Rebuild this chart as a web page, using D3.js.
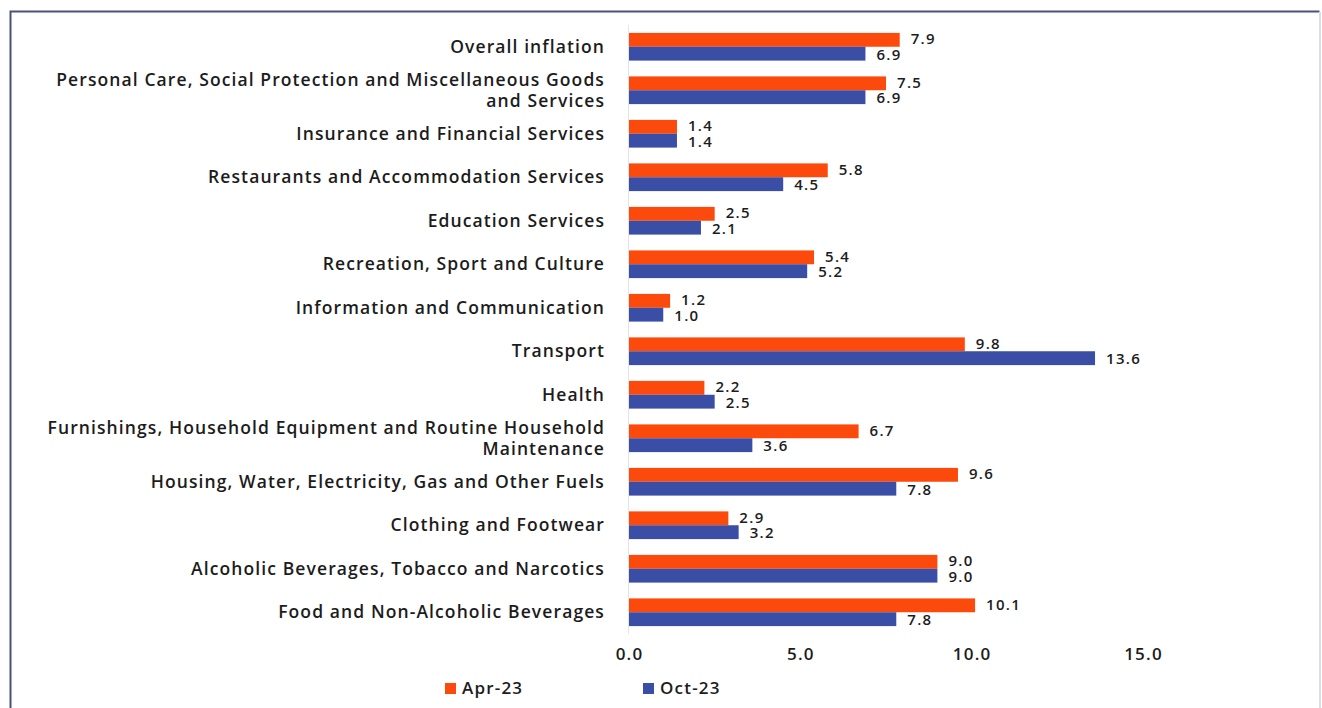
<!DOCTYPE html>
<html>
<head>
<meta charset="utf-8">
<script src="https://cdn.jsdelivr.net/npm/d3@7"></script>
<style>
  body { margin: 0; background: #fff; }
  svg { display: block; font-family: "Open Sans", sans-serif; }
</style>
</head>
<body>
<svg id="chart"></svg>
<script>
// categories from top to bottom, as they appear in the chart
const categories = [
  ["Overall inflation"],
  ["Personal Care, Social Protection and Miscellaneous Goods", "and Services"],
  ["Insurance and Financial Services"],
  ["Restaurants and Accommodation Services"],
  ["Education Services"],
  ["Recreation, Sport and Culture"],
  ["Information and Communication"],
  ["Transport"],
  ["Health"],
  ["Furnishings, Household Equipment and Routine Household", "Maintenance"],
  ["Housing, Water, Electricity, Gas and Other Fuels"],
  ["Clothing and Footwear"],
  ["Alcoholic Beverages, Tobacco and Narcotics"],
  ["Food and Non-Alcoholic Beverages"]
];
const apr23 = [7.9, 7.5, 1.4, 5.8, 2.5, 5.4, 1.2, 9.8, 2.2, 6.7, 9.6, 2.9, 9.0, 10.1];
const oct23 = [6.9, 6.9, 1.4, 4.5, 2.1, 5.2, 1.0, 13.6, 2.5, 3.6, 7.8, 3.2, 9.0, 7.8];
const seriesNames = ["Apr-23", "Oct-23"];
const xTicks = [0, 5, 10, 15];

const colors = {"Apr-23": "#fc4a0c", "Oct-23": "#3b4ea6"};
const textColor = "#1c1c1c";

const width = 1322, height = 708;
const svg = d3.select("#chart").attr("width", width).attr("height", height);

// frame of the scanned figure
svg.append("path")
    .attr("d", `M10.5,${height} V11.5 H1319.5`)
    .attr("fill", "none")
    .attr("stroke", "#4b5178")
    .attr("stroke-width", 2);
svg.append("line")
    .attr("x1", 1320).attr("x2", 1320).attr("y1", 12).attr("y2", height)
    .attr("stroke", "#dcdde6").attr("stroke-width", 2);

const rows = categories.map((c, i) => ({label: c, values: [apr23[i], oct23[i]], idx: i}));

const x = d3.scaleLinear().domain([0, 15]).range([629, 1143]);
const y = d3.scaleBand().domain(d3.range(categories.length)).range([25, 634]).padding(0);
const inner = d3.scaleBand().domain([0, 1]).range([0, y.bandwidth()]).paddingOuter(0.57).paddingInner(0);

// light axis line at zero
svg.append("line")
    .attr("x1", x(0) - 0.5).attr("x2", x(0) - 0.5)
    .attr("y1", 25).attr("y2", 634)
    .attr("stroke", "#e4e4e8");

const g = svg.selectAll("g.row").data(rows).join("g")
    .attr("class", "row")
    .attr("transform", d => `translate(0,${y(d.idx)})`);

g.selectAll("rect").data(d => d.values).join("rect")
    .attr("x", x(0))
    .attr("y", (v, j) => inner(j))
    .attr("width", v => x(v) - x(0))
    .attr("height", inner.bandwidth())
    .attr("fill", (v, j) => colors[seriesNames[j]]);

g.selectAll("text.val").data(d => d.values).join("text")
    .attr("class", "val")
    .attr("x", v => x(v) + 11)
    .attr("y", (v, j) => inner(j) + inner.bandwidth() / 2 + (j === 0 ? -1 : 1))
    .attr("dy", "0.35em")
    .attr("font-size", 15)
    .attr("font-weight", 600)
    .attr("letter-spacing", 1.3)
    .attr("fill", textColor)
    .text(v => v.toFixed(1));

// category labels, right aligned
g.append("text")
    .attr("text-anchor", "end")
    .attr("font-size", 17.5)
    .attr("font-weight", 600)
    .attr("letter-spacing", 1.1)
    .attr("fill", textColor)
    .each(function(d) {
      const t = d3.select(this);
      const n = d.label.length;
      d.label.forEach((line, k) => {
        t.append("tspan")
          .attr("x", 605)
          .attr("y", y.bandwidth() / 2 + (k - (n - 1) / 2) * 21)
          .attr("dy", "0.35em")
          .text(line);
      });
    });

// x axis tick labels
const axis = d3.axisBottom(x).tickValues(xTicks).tickFormat(d3.format(".1f")).tickSize(0).tickPadding(0);
svg.append("g")
    .attr("transform", "translate(0,648)")
    .call(axis)
    .call(a => a.select(".domain").remove())
    .call(a => a.selectAll("text")
        .attr("font-size", 17)
        .attr("font-weight", 600)
        .attr("font-family", "Open Sans, sans-serif")
        .attr("letter-spacing", 1.2)
        .attr("fill", textColor));

// legend
const legendX = [445, 643];
const leg = svg.selectAll("g.leg").data(seriesNames).join("g")
    .attr("class", "leg")
    .attr("transform", (d, i) => `translate(${legendX[i]},683)`);
leg.append("rect").attr("width", 11).attr("height", 11).attr("fill", d => colors[d]);
leg.append("text")
    .attr("x", 17).attr("y", 5.5).attr("dy", "0.35em")
    .attr("font-size", 17)
    .attr("font-weight", 600)
    .attr("letter-spacing", 1.2)
    .attr("fill", textColor)
    .text(d => d);
</script>
</body>
</html>
